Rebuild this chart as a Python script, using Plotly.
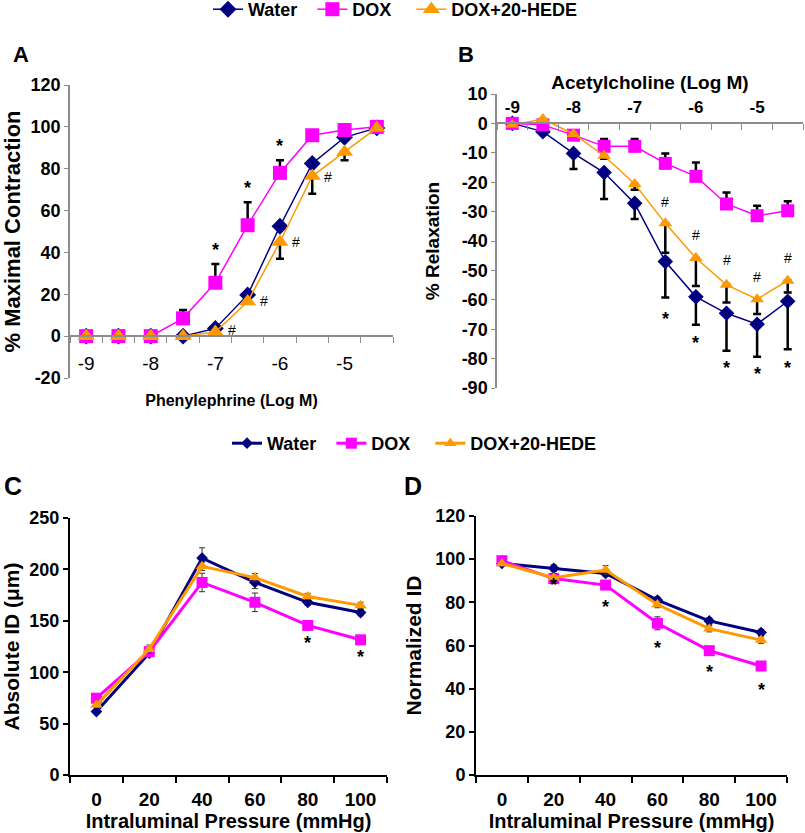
import plotly.graph_objects as go

FONT = "Liberation Sans, Arial, sans-serif"
W, H = 805, 833

NAVY = "#000080"
MAGENTA = "#FF00FF"
ORANGE = "#FF9900"

# trailing no-break spaces only widen the legend entries
SERIES = ["Water\u00a0\u00a0", "DOX\u00a0\u00a0\u00a0", "DOX+20-HEDE"]
COLORS = [NAVY, MAGENTA, ORANGE]
SYMBOLS = ["diamond", "square", "triangle-up"]

# ---- Panel A: phenylephrine contraction ----
pe_log = [-9, -8.5, -8, -7.5, -7, -6.5, -6, -5.5, -5, -4.5]
pe_water = [0, 0, 0, 0, 3.7, 19.7, 52.5, 82.5, 95, 99.5]
pe_dox = [0, 0, 0, 8.5, 25.5, 53, 78, 96, 98.5, 100]
pe_hede = [0, 0, 0, 0, 2, 16.5, 45, 76.5, 88, 99.5]
pe_water_up = [0, 0, 0, 0, 0, 0, 0, 0, 0, 0]
pe_dox_up = [0, 0, 0, 4, 9, 11, 6, 1, 0, 0]
pe_hede_down = [0, 0, 0, 0, 0, 0, 8, 8.5, 4, 0]
pe_star_x = [-7, -6.5, -6]
pe_star_y = [41, 71, 91]
pe_hash_x = [-6.75, -6.25, -5.75, -5.25]
pe_hash_y = [3, 17, 45, 76]

# ---- Panel B: acetylcholine relaxation ----
ach_log = [-9, -8.5, -8, -7.5, -7, -6.5, -6, -5.5, -5, -4.5]
ach_water = [0, -2.8, -10.2, -16.7, -27.2, -47, -59, -64.6, -68.3, -60.5]
ach_dox = [0, -0.5, -4, -7.8, -7.8, -13.6, -18, -27.4, -31.4, -29.7]
ach_hede = [-0.5, 1.5, -3.6, -11, -20.6, -34, -45.8, -54.9, -59.8, -53.5]
ach_water_down = [0, 0, 5.3, 9, 5.3, 12.2, 9.5, 12.7, 11.1, 16.3]
ach_dox_up = [0, 0, 0, 2.5, 2.5, 3.4, 4.7, 3.9, 3.4, 3.2]
ach_hede_down = [0.5, 0, 0.5, 1, 2, 10, 9.5, 6, 5, 4]
ach_star_x = [-6.5, -6, -5.5, -5, -4.5]
ach_star_y = [-66.5, -74.8, -83.2, -85.2, -83.2]
ach_hash_x = [-6.5, -6, -5.5, -5, -4.5]
ach_hash_y = [-26.6, -38, -46.5, -52.4, -45.8]

# ---- Panel C: absolute ID ----
pressure = [0, 20, 40, 60, 80, 100]
abs_water = [61.7, 118.5, 211, 187.3, 168, 158]
abs_dox = [74.7, 120, 187.3, 168, 145.5, 131.5]
abs_hede = [68, 122.4, 203, 192, 173.7, 165]
abs_water_err = [2, 3, 10, 6, 3, 3]
abs_dox_err = [3, 3, 9, 9, 4, 3]
abs_hede_err = [2, 4, 4, 4, 3, 3]
abs_star_x = [80, 100]
abs_star_y = [128, 115]

# ---- Panel D: normalized ID ----
norm_water = [98, 95.8, 93.4, 81, 71.4, 66]
norm_dox = [99.3, 91, 88, 70.3, 57.6, 50.5]
norm_hede = [98, 91.4, 95, 79, 67.8, 62.5]
norm_water_err = [1, 1.5, 1.5, 1.5, 1.5, 1.5]
norm_dox_err = [1.5, 1.5, 2, 3, 2, 2]
norm_hede_err = [1, 2, 2, 1.5, 1.5, 1.5]
norm_star_x = [20, 40, 60, 80, 100]
norm_star_y = [88, 78, 59, 47.5, 39.5]

log_ticks = [-9, -8, -7, -6, -5]
log_labels = ["-9", "-8", "-7", "-6", "-5"]
a_ticks = [-20, 0, 20, 40, 60, 80, 100, 120]
b_ticks = [10, 0, -10, -20, -30, -40, -50, -60, -70, -80, -90]
c_ticks = [0, 50, 100, 150, 200, 250]
d_ticks = [0, 20, 40, 60, 80, 100, 120]
p_ticks = [0, 20, 40, 60, 80, 100]


def dom_x(a, b):
    return [a / W, b / W]


def dom_y(top, bottom):
    return [1 - bottom / H, 1 - top / H]


def lab(v):
    return [str(t) for t in v]


def at_value(domain, rng, v):
    return domain[0] + (v - rng[0]) / (rng[1] - rng[0]) * (domain[1] - domain[0])


def bold(size):
    return dict(family=FONT, size=size, color="black", weight="bold")


fig = go.Figure()


def add_panel(xa, ya, x, ys, ups, downs, sizes, lw, err_style, legend=None):
    for i, y in enumerate(ys):
        fig.add_trace(go.Scatter(
            x=x, y=y, name=SERIES[i], xaxis=xa, yaxis=ya,
            mode="lines+markers",
            line=dict(color=COLORS[i], width=lw),
            marker=dict(symbol=SYMBOLS[i], size=sizes[i], color=COLORS[i],
                        line=dict(width=0)),
            error_y=dict(type="data", symmetric=False, array=ups[i],
                         arrayminus=downs[i], **err_style),
            showlegend=legend is not None, legend=legend or "legend",
        ))


zeros = [0] * 10
thick_err = dict(color="black", thickness=2.5, width=4)
thin_err = dict(color="#333333", thickness=1, width=3)

add_panel("x", "y", pe_log, [pe_water, pe_dox, pe_hede],
          [pe_water_up, pe_dox_up, zeros], [zeros, zeros, pe_hede_down],
          [13, 14, 15], 1.5, thick_err, legend="legend")
add_panel("x2", "y2", ach_log, [ach_water, ach_dox, ach_hede],
          [zeros, ach_dox_up, zeros], [ach_water_down, zeros, ach_hede_down],
          [12, 13, 12], 1.5, thick_err)
add_panel("x3", "y3", pressure, [abs_water, abs_dox, abs_hede],
          [abs_water_err, abs_dox_err, abs_hede_err],
          [abs_water_err, abs_dox_err, abs_hede_err],
          [9, 11, 11], 3, thin_err, legend="legend2")
add_panel("x4", "y4", pressure, [norm_water, norm_dox, norm_hede],
          [norm_water_err, norm_dox_err, norm_hede_err],
          [norm_water_err, norm_dox_err, norm_hede_err],
          [9, 11, 11], 3, thin_err)

GRAY = "#8c8c8c"
dA_x, dA_y, rA = dom_x(70, 393), dom_y(85, 378), [-20, 120]
dB_x, dB_y, rB = dom_x(497, 803), dom_y(94, 388), [-90, 10]
dC_x, dC_y, rC = dom_x(70, 387), dom_y(518, 775), [0, 250]
dD_x, dD_y, rD = dom_x(476, 787), dom_y(516, 775), [0, 120]

cat_minor = dict(ticks="outside", ticklen=6, tick0=-9.25, dtick=0.5,
                 tickcolor=GRAY, tickwidth=1, showgrid=False)
p_minor = dict(ticks="outside", ticklen=6, tick0=-10, dtick=20,
               tickcolor="black", tickwidth=1.5, showgrid=False)

common = dict(showgrid=False, zeroline=False, automargin=False, showline=True)

fig.update_layout(
    width=W, height=H, margin=dict(l=0, r=0, t=0, b=0, autoexpand=False),
    paper_bgcolor="white", plot_bgcolor="white",
    font=dict(family=FONT, color="black"),
    xaxis=dict(common, domain=dA_x, range=[-9.25, -4.25], anchor="free",
               position=at_value(dA_y, rA, 0),
               tickvals=log_ticks, ticktext=log_labels, ticks="",
               tickfont=dict(family=FONT, size=19, color="black"),
               ticklabelstandoff=10, minor=cat_minor,
               linecolor=GRAY, linewidth=1.5,
               title=dict(text="Phenylephrine (Log M)", font=bold(16), standoff=21)),
    yaxis=dict(common, domain=dA_y, range=rA, anchor="x",
               tickvals=a_ticks, ticktext=lab(a_ticks), tickfont=bold(18),
               ticks="outside", ticklen=4, tickcolor=GRAY,
               linecolor=GRAY, linewidth=1.5,
               title=dict(text="% Maximal Contraction", font=bold(22), standoff=6)),
    xaxis2=dict(common, domain=dB_x, range=[-9.25, -4.25], anchor="free", side="top",
                position=at_value(dB_y, rB, 0),
                tickvals=log_ticks, ticktext=log_labels, ticks="",
                tickfont=bold(17), ticklabelstandoff=3,
                minor=dict(cat_minor, ticks="inside"),
                linecolor=GRAY, linewidth=1.5,
                title=dict(text="Acetylcholine (Log M)", font=bold(19), standoff=2)),
    yaxis2=dict(common, domain=dB_y, range=rB, anchor="x2",
                tickvals=b_ticks, ticktext=lab(b_ticks), tickfont=bold(18),
                ticks="outside", ticklen=4, tickcolor=GRAY,
                linecolor=GRAY, linewidth=1.5,
                title=dict(text="% Relaxation", font=bold(19), standoff=17)),
    xaxis3=dict(common, domain=dC_x, range=[-10, 110], anchor="y3",
                tickvals=p_ticks, ticktext=lab(p_ticks), ticks="",
                tickfont=bold(19), ticklabelstandoff=6, minor=p_minor,
                linecolor="black", linewidth=2,
                title=dict(text="Intraluminal Pressure (mmHg)", font=bold(20), standoff=5)),
    yaxis3=dict(common, domain=dC_y, range=rC, anchor="x3",
                tickvals=c_ticks, ticktext=lab(c_ticks), tickfont=bold(18),
                ticks="outside", ticklen=5, tickcolor="black", tickwidth=1.5,
                linecolor="black", linewidth=2,
                title=dict(text="Absolute ID (μm)", font=bold(21), standoff=5)),
    xaxis4=dict(common, domain=dD_x, range=[-10, 110], anchor="y4",
                tickvals=p_ticks, ticktext=lab(p_ticks), ticks="",
                tickfont=bold(19), ticklabelstandoff=6, minor=p_minor,
                linecolor="black", linewidth=2,
                title=dict(text="Intraluminal Pressure (mmHg)", font=bold(20), standoff=5)),
    yaxis4=dict(common, domain=dD_y, range=rD, anchor="x4",
                tickvals=d_ticks, ticktext=lab(d_ticks), tickfont=bold(18),
                ticks="outside", ticklen=5, tickcolor="black", tickwidth=1.5,
                linecolor="black", linewidth=2,
                title=dict(text="Normalized ID", font=bold(21), standoff=8)),
    legend=dict(orientation="h", x=208 / W, y=1 + 9 / H, xanchor="left",
                yanchor="top", font=bold(18), bgcolor="rgba(0,0,0,0)"),
    legend2=dict(orientation="h", x=227 / W, y=1 - 425 / H, xanchor="left",
                 yanchor="top", font=bold(18), bgcolor="rgba(0,0,0,0)"),
)

# significance marks
marks = [
    ("x", "y", pe_star_x, pe_star_y, "*"),
    ("x", "y", pe_hash_x, pe_hash_y, "#"),
    ("x2", "y2", ach_star_x, ach_star_y, "*"),
    ("x2", "y2", ach_hash_x, ach_hash_y, "#"),
    ("x3", "y3", abs_star_x, abs_star_y, "*"),
    ("x4", "y4", norm_star_x, norm_star_y, "*"),
]
for xa, ya, xs, ys, sym in marks:
    for xv, yv in zip(xs, ys):
        fig.add_annotation(x=xv, y=yv, xref=xa, yref=ya, text=sym,
                           showarrow=False,
                           font=bold(18) if sym == "*" else dict(family=FONT, size=14,
                                                                 color="black"))

# panel letters
for letter, px, py, size in [("A", 21, 55, 22), ("B", 466, 55, 22),
                             ("C", 13, 486, 25), ("D", 413, 486, 25)]:
    fig.add_annotation(x=px / W, y=1 - py / H, xref="paper", yref="paper",
                       xanchor="center", yanchor="middle",
                       text=letter, showarrow=False, font=bold(size))

# the page's default body margin would shift the figure by 8 px
fig.write_html("out.html", config={"displayModeBar": False},
               post_script="document.body.style.margin='0';")
